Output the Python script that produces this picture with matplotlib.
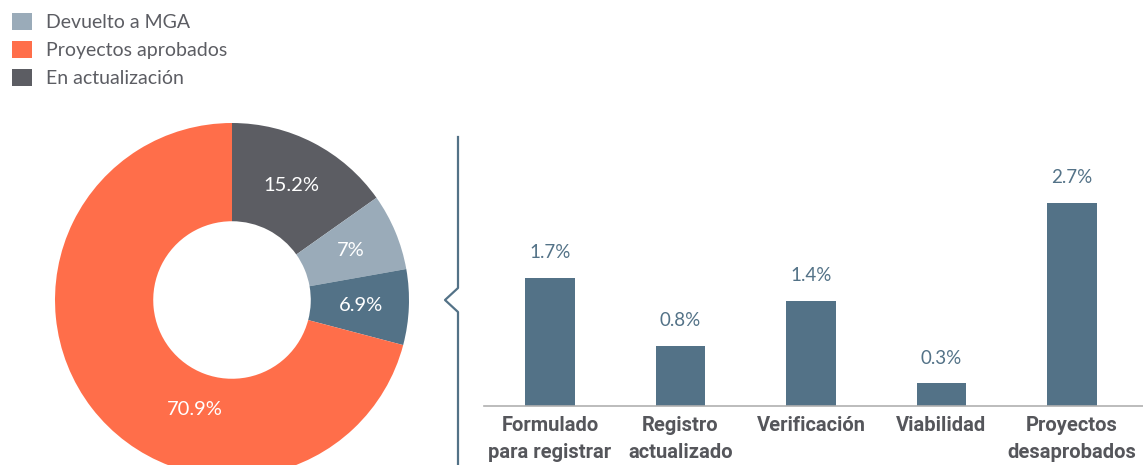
import matplotlib.pyplot as plt
from matplotlib.lines import Line2D

# Donut values (clockwise from the top)
pie_labels = ['En actualización', 'Devuelto a MGA', 'En trámite', 'Proyectos aprobados']
pie_values = [15.2, 7.0, 6.9, 70.9]
pie_colors = ['#5c5d63', '#9aabb9', '#537287', '#ff6e4a']

# Breakdown of the 6.9% slice
bar_labels = ['Formulado\npara registrar', 'Registro\nactualizado', 'Verificación', 'Viabilidad', 'Proyectos\ndesaprobados']
bar_values = [1.7, 0.8, 1.4, 0.3, 2.7]


class ProjectStatusChart:
    def __init__(self):
        """
        Sets the fonts and the figure used by both panels.
        """
        plt.rcParams['font.family'] = ['Lato', 'DejaVu Sans']
        self.fig = plt.figure(figsize=(11.43, 4.65), dpi=100)

    def plot_donut(self):
        """
        Draws the donut on the left with the percentage of each status inside its wedge.
        """
        plt.axes([55 / 1143, -12 / 465, 354 / 1143, 354 / 465])
        wedges, _, pct_texts = plt.pie(pie_values, colors=pie_colors, startangle=90, counterclock=False,
                                       radius=1.0, wedgeprops=dict(width=0.555, linewidth=0),
                                       autopct=lambda p: f'{round(p, 1):g}%', pctdistance=0.73,
                                       textprops=dict(color='white', fontsize=14.5))
        pct_texts[3].set_position((-0.21, -0.62))  # the big slice label sits lower than its middle
        plt.xlim(-1, 1)
        plt.ylim(-1, 1)
        plt.gca().set_aspect('equal')

        # Legend only for the three main statuses
        order = [1, 3, 0]
        plt.figlegend([wedges[i] for i in order], [pie_labels[i] for i in order], loc='upper left',
                      bbox_to_anchor=(-0.002, 1.004), frameon=False, fontsize=14, handlelength=1.0,
                      handleheight=1.0, handletextpad=0.75, labelspacing=0.5, borderpad=0.25,
                      labelcolor='#5c5d63')

    def plot_bars(self):
        """
        Draws the bar chart on the right that details the 6.9% slice.
        """
        plt.axes([484 / 1143, 59 / 465, 659 / 1143, 256 / 465])
        indices = range(len(bar_values))
        plt.bar(indices, bar_values, width=0.38, color='#537287')
        for idx, val in enumerate(bar_values):
            plt.text(idx, val + 0.22, f'{val}%', ha='center', va='bottom', color='#537287', fontsize=13.5)

        plt.xlim(-0.506, 4.544)
        plt.ylim(0, 3.4)
        plt.xticks(indices, bar_labels, fontsize=14.5, fontweight='bold', color='#55565b',
                   family=['Roboto', 'DejaVu Sans'], linespacing=1.55)
        plt.tick_params(axis='x', length=0, pad=7)
        plt.yticks([])
        ax = plt.gca()
        for side in ['top', 'left', 'right']:
            ax.spines[side].set_visible(False)
        ax.spines['bottom'].set_color('#b0b0b0')
        ax.spines['bottom'].set_linewidth(1.2)

        # Bracket joining the slice to its breakdown
        xs = [458 / 1143, 458 / 1143, 445 / 1143, 458 / 1143, 458 / 1143]
        ys = [1 - 137 / 465, 1 - 288 / 465, 1 - 300 / 465, 1 - 312 / 465, 0.0]
        self.fig.add_artist(Line2D(xs, ys, color='#537287', linewidth=1.6, transform=self.fig.transFigure))


chart = ProjectStatusChart()
chart.plot_donut()
chart.plot_bars()
plt.savefig('out.png', dpi=100)
